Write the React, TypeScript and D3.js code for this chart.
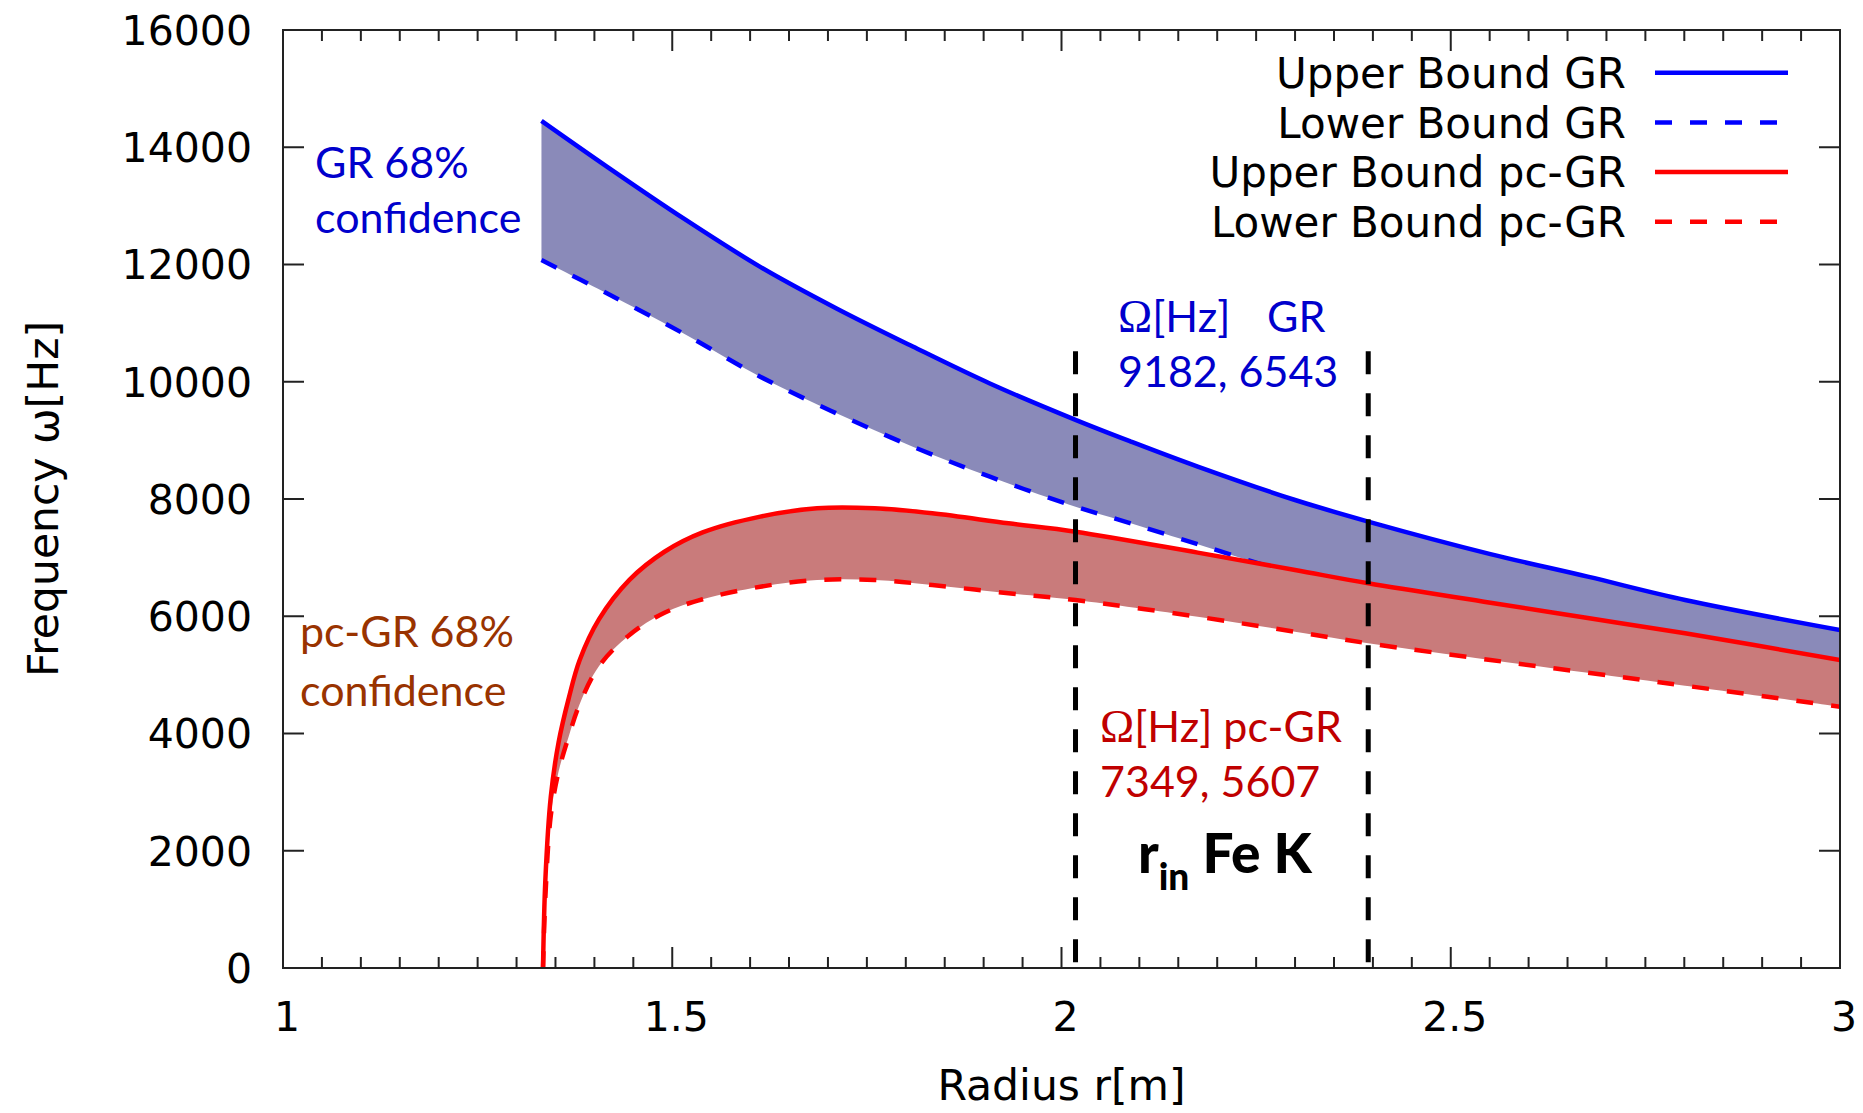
import React from "react";
import * as d3 from "d3";

// ---- data ----
const grRadius = [1.332, 1.416, 1.514, 1.613, 1.711, 1.809, 1.908, 2.018, 2.089, 2.175, 2.3, 2.394, 2.551, 2.676, 2.801, 3.0];
const grUpper = [14450, 13670, 12790, 11960, 11250, 10600, 9970, 9350, 8980, 8552, 7983, 7615, 7060, 6675, 6277, 5765];
const grLower = [12077, 11508, 10826, 10086, 9461, 8892, 8380, 7869, 7585, 7230, 6720, 6450, 5978, 5647, 5310, 4884];

const pcRadius = [1.334, 1.337, 1.344, 1.354, 1.367, 1.381, 1.406, 1.445, 1.49, 1.539, 1.613, 1.686, 1.76, 1.834, 1.932, 2.018, 2.175, 2.3, 2.394, 2.551, 2.676, 2.801, 3.0];
const pcUpper = [0, 1500, 2920, 3850, 4600, 5250, 5950, 6620, 7100, 7430, 7699, 7841, 7841, 7756, 7585, 7443, 7085, 6789, 6562, 6231, 5970, 5709, 5254];
const pcLower = [0, 1200, 2600, 3350, 3950, 4500, 5150, 5680, 6060, 6290, 6504, 6618, 6618, 6533, 6391, 6277, 5992, 5736, 5538, 5254, 5037, 4816, 4457];

const xTickValues = [1, 1.5, 2, 2.5, 3];
const xTickLabels = ["1", "1.5", "2", "2.5", "3"];
const yTickValues = [0, 2000, 4000, 6000, 8000, 10000, 12000, 14000, 16000];
const yTickLabels = ["0", "2000", "4000", "6000", "8000", "10000", "12000", "14000", "16000"];
const rinBounds = [2.018, 2.394];
const rinTop = 10520;

const legendLabels = ["Upper Bound GR", "Lower Bound GR", "Upper Bound pc-GR", "Lower Bound pc-GR"];
const legendColors = ["#0000ff", "#0000ff", "#ff0000", "#ff0000"];
const legendDashed = [false, true, false, true];

const W = 1863;
const H = 1113;
const PL = 283, PR = 1840, PT = 30, PB = 968;

const FONT = "'DejaVu Sans', Verdana, sans-serif";
const AFONT = "Lato, 'Open Sans', sans-serif";
const SERIF = "'Liberation Serif', 'DejaVu Serif', serif";

type Pt = { r: number; hi: number; lo: number };

export default function App() {
  const x = d3.scaleLinear().domain([1, 3]).range([PL, PR]);
  const y = d3.scaleLinear().domain([0, 16000]).range([PB, PT]);

  const grPts: Pt[] = grRadius.map((r, i) => ({ r, hi: grUpper[i], lo: grLower[i] }));
  const pcPts: Pt[] = pcRadius.map((r, i) => ({ r, hi: pcUpper[i], lo: pcLower[i] }));

  const curve = d3.curveCatmullRom.alpha(0.5);
  const area = d3
    .area<Pt>()
    .x((d) => x(d.r))
    .y0((d) => y(d.lo))
    .y1((d) => y(d.hi))
    .curve(curve);
  const lineHi = d3
    .line<Pt>()
    .x((d) => x(d.r))
    .y((d) => y(d.hi))
    .curve(curve);
  const lineLo = d3
    .line<Pt>()
    .x((d) => x(d.r))
    .y((d) => y(d.lo))
    .curve(curve);

  const minorX = d3.range(1, 3.0001, 0.05);
  const dash = "17,18";

  return (
    <div style={{ position: "absolute", left: 0, top: 0, width: W, height: H, background: "#fff" }}>
      <svg width={W} height={H} viewBox={`0 0 ${W} ${H}`} style={{ display: "block" }}>
        <defs>
          <clipPath id="plotClip">
            <rect x={PL} y={PT} width={PR - PL} height={PB - PT} />
          </clipPath>
        </defs>
        <rect x={0} y={0} width={W} height={H} fill="#fff" />

        <g clipPath="url(#plotClip)">
          <path d={area(grPts) || ""} fill="#8a8ab9" stroke="none" />
          <path d={lineHi(grPts) || ""} fill="none" stroke="#0000ff" strokeWidth={4.5} />
          <path d={lineLo(grPts) || ""} fill="none" stroke="#0000ff" strokeWidth={4.5} strokeDasharray={dash} />
          <path d={area(pcPts) || ""} fill="#c97b7b" stroke="none" />
          <path d={lineHi(pcPts) || ""} fill="none" stroke="#ff0000" strokeWidth={4.5} />
          <path d={lineLo(pcPts) || ""} fill="none" stroke="#ff0000" strokeWidth={4.5} strokeDasharray={dash} />
          {rinBounds.map((r, i) => (
            <line key={i} x1={x(r)} x2={x(r)} y1={y(rinTop)} y2={y(0)} stroke="#000" strokeWidth={5} strokeDasharray="23,19" />
          ))}
        </g>

        {/* frame */}
        <rect x={PL} y={PT} width={PR - PL} height={PB - PT} fill="none" stroke="#222" strokeWidth={2} />

        {/* x ticks */}
        {minorX.map((v, i) => {
          const major = xTickValues.some((t) => Math.abs(t - v) < 1e-6);
          const len = major ? 21 : 11;
          return (
            <g key={"xt" + i} stroke="#222" strokeWidth={2}>
              <line x1={x(v)} x2={x(v)} y1={PB} y2={PB - len} />
              <line x1={x(v)} x2={x(v)} y1={PT} y2={PT + len} />
            </g>
          );
        })}
        {xTickValues.map((v, i) => (
          <text key={"xl" + i} x={x(v) + 4} y={1031} fontFamily={FONT} fontSize={41} textAnchor="middle" fill="#000">
            {xTickLabels[i]}
          </text>
        ))}

        {/* y ticks */}
        {yTickValues.map((v, i) => (
          <g key={"yt" + i}>
            <line x1={PL} x2={PL + 21} y1={y(v)} y2={y(v)} stroke="#222" strokeWidth={2} />
            <line x1={PR} x2={PR - 21} y1={y(v)} y2={y(v)} stroke="#222" strokeWidth={2} />
            <text x={252} y={y(v)} dy="0.36em" fontFamily={FONT} fontSize={41} textAnchor="end" fill="#000">
              {yTickLabels[i]}
            </text>
          </g>
        ))}

        {/* axis titles */}
        <text x={(PL + PR) / 2} y={1100} fontFamily={FONT} fontSize={42.5} textAnchor="middle" fill="#000">
          Radius r[m]
        </text>
        <text
          transform={`translate(58, ${(PT + PB) / 2}) rotate(-90)`}
          fontFamily={FONT}
          fontSize={42.5}
          textAnchor="middle"
          fill="#000"
        >
          Frequency ω[Hz]
        </text>

        {/* annotations */}
        <text x={315} y={178} fontFamily={AFONT} fontSize={43} fill="#0000cc">GR 68%</text>
        <text x={315} y={233} fontFamily={AFONT} fontSize={43} fill="#0000cc">confidence</text>
        <text x={300} y={647} fontFamily={AFONT} fontSize={43} fill="#993300">pc-GR 68%</text>
        <text x={300} y={706} fontFamily={AFONT} fontSize={43} fill="#993300">confidence</text>

        <text x={1118} y={332} fontFamily={AFONT} fontSize={43} fill="#0000cc">
          <tspan fontFamily={SERIF} fontSize={46}>Ω</tspan>
          <tspan>[Hz]</tspan>
          <tspan x={1267}>GR</tspan>
        </text>
        <text x={1118} y={387} fontFamily={AFONT} fontSize={43} fill="#0000cc">9182, 6543</text>

        <text x={1100} y={742} fontFamily={AFONT} fontSize={43} fill="#c00000">
          <tspan fontFamily={SERIF} fontSize={46}>Ω</tspan>
          <tspan>[Hz] pc-GR</tspan>
        </text>
        <text x={1100} y={797} fontFamily={AFONT} fontSize={43} fill="#c00000">7349, 5607</text>

        <text x={1138} y={873} fontFamily={AFONT} fontSize={55} fontWeight="900" fill="#000">
          r<tspan dy={17} fontSize={37}>in</tspan>
          <tspan dy={-17}> Fe K</tspan>
        </text>

        {/* legend */}
        {legendLabels.map((lab, i) => {
          const ly = 72.7 + i * 49.7;
          return (
            <g key={"lg" + i}>
              <text x={1626} y={ly} dy="0.36em" fontFamily={FONT} fontSize={42} textAnchor="end" fill="#000">
                {lab}
              </text>
              <line
                x1={1655}
                x2={1788}
                y1={ly}
                y2={ly}
                stroke={legendColors[i]}
                strokeWidth={4.5}
                strokeDasharray={legendDashed[i] ? dash : undefined}
              />
            </g>
          );
        })}
      </svg>
    </div>
  );
}
